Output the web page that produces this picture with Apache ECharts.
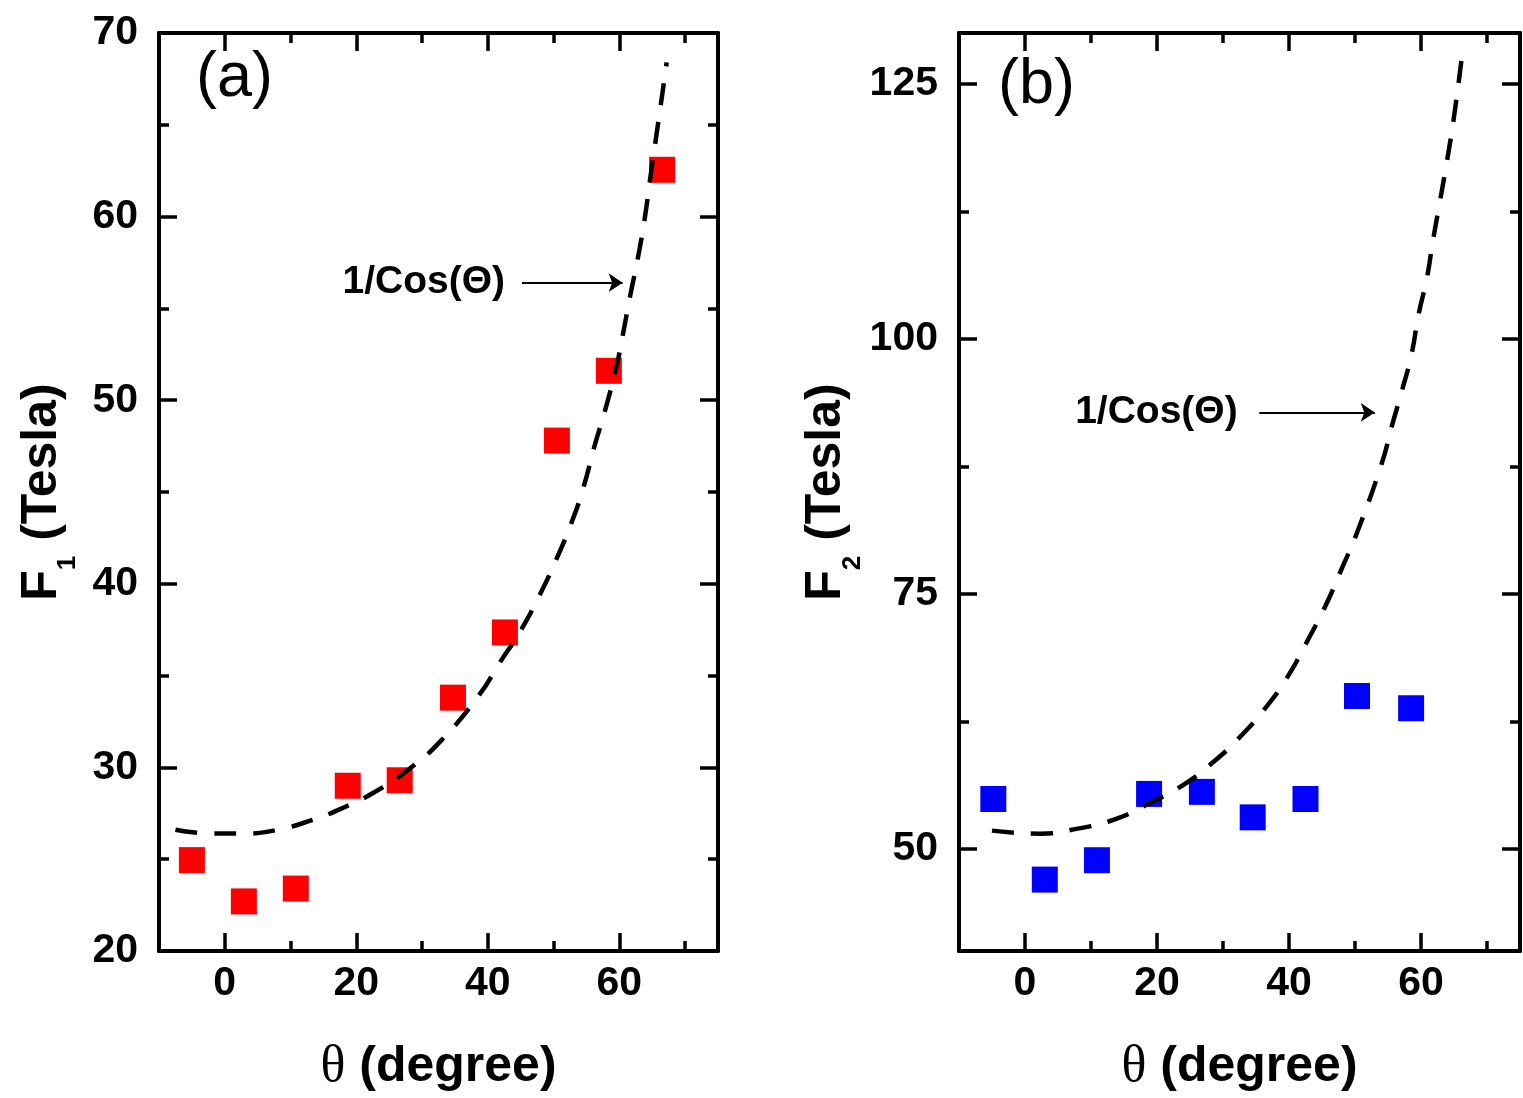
<!DOCTYPE html>
<html>
<head>
<meta charset="utf-8">
<script src="https://cdn.jsdelivr.net/npm/echarts@6/dist/echarts.min.js"></script>
<style>
  html, body { margin: 0; padding: 0; background: #fff; }
  #main { width: 1523px; height: 1098px; }
</style>
</head>
<body>
<div id="main"></div>
<script>
// panel (a): F1 measured points
const angA = [-5, 2.9, 10.8, 18.7, 26.6, 34.7, 42.6, 50.5, 58.4, 66.5];
const f1 = [24.95, 22.7, 23.4, 29.0, 29.3, 33.8, 37.35, 47.8, 51.6, 62.55];
// panel (a): dashed 1/cos curve
const curveAx = [-7.5, -2, 3, 8, 13, 18, 23, 28, 33, 38.8, 41.8, 44.9, 47.9, 50.5, 52.8, 54.5, 56.3, 57.8, 59.6, 60.5, 61.6, 62.9, 63.9, 64.7, 65.7, 66.5, 67.2];
const curveAy = [26.6, 26.4, 26.4, 26.6, 27.1, 27.8, 28.7, 29.9, 31.5, 34.0, 35.7, 37.4, 39.4, 41.4, 43.4, 45.2, 47.6, 49.4, 51.9, 53.5, 55.6, 57.9, 60.0, 62.1, 64.6, 66.6, 68.4];

// panel (b): F2 measured points
const angB = [-4.8, 3.0, 10.9, 18.8, 26.8, 34.5, 42.5, 50.3, 58.5];
const f2 = [54.9, 47.0, 48.9, 55.4, 55.6, 53.1, 54.9, 65.0, 63.8];
// panel (b): dashed 1/cos curve
const curveBx = [-5, 2.3, 8, 13.6, 18.9, 23.8, 28.3, 32.6, 36.4, 39.8, 42.7, 45.5, 48, 50.3, 54.1, 55.6, 57.1, 58.6, 59.6, 60.9, 61.8, 62.9, 63.9, 65, 66.2];
const curveBy = [51.8, 51.5, 52.0, 52.9, 54.5, 56.2, 58.4, 61.0, 63.8, 66.9, 70.3, 73.8, 77.5, 81.0, 87.9, 91.5, 94.9, 98.6, 102.3, 106.0, 109.6, 113.6, 117.3, 121.8, 127.7];

// ticks
const xMajor = [0, 20, 40, 60];
const xMinor = [-10, 10, 30, 50, 70];
const yMajorA = [20, 30, 40, 50, 60, 70];
const yMinorA = [25, 35, 45, 55, 65];
const yMajorB = [50, 75, 100, 125];
const yMinorB = [62.5, 87.5, 112.5];

// annotations: [textX, textY, arrowX0, arrowX1]
const noteA = [17.9, 56.4, 45.2, 60.5];
const noteB = [7.6, 92.8, 35.5, 53.0];

const SANS = 'Liberation Sans, Arial, Helvetica, sans-serif';
const SERIF = 'Liberation Serif, Times New Roman, serif';

function zip(a, b) { return a.map((v, i) => [v, b[i]]); }

function axis(grid, pos, min, max, ticks, len, showLine, extra) {
  return Object.assign({
    type: 'value', gridIndex: grid, position: pos, min: min, max: max,
    splitLine: { show: false },
    axisLine: { show: showLine, onZero: false, lineStyle: { color: '#000', width: 4 } },
    axisTick: { show: true, inside: true, length: len, customValues: ticks,
      lineStyle: { color: '#000', width: 3.5 } },
    axisLabel: { show: false }
  }, extra || {});
}

function labels(vals, margin) {
  return { show: true, customValues: vals, margin: margin, color: '#000',
    fontFamily: SANS, fontWeight: 'bold', fontSize: 41 };
}

const xName = {
  name: '{t|θ}{m| (degree)}', nameLocation: 'middle', nameGap: 90,
  nameTextStyle: { rich: {
    t: { fontFamily: SERIF, fontSize: 52, color: '#000' },
    m: { fontFamily: SANS, fontWeight: 'bold', fontSize: 50, color: '#000' }
  } }
};
function yName(sub, gap) {
  return {
    name: '{m|F}{s|' + sub + '}{m| (Tesla)}', nameLocation: 'middle', nameGap: gap,
    nameTextStyle: { rich: {
      m: { fontFamily: SANS, fontWeight: 'bold', fontSize: 50, lineHeight: 50, verticalAlign: 'top', color: '#000' },
      s: { fontFamily: SANS, fontWeight: 'bold', fontSize: 26, lineHeight: 26, padding: [38, 1, 0, 0], verticalAlign: 'top', color: '#000' }
    } }
  };
}

const xAxes = [];
const yAxes = [];
[0, 1].forEach(function (g) {
  xAxes.push(axis(g, 'bottom', -10, 75, xMajor, 18, true,
    Object.assign({ axisLabel: labels(xMajor, 12) }, xName)));
  xAxes.push(axis(g, 'bottom', -10, 75, xMinor, 10, false));
  xAxes.push(axis(g, 'top', -10, 75, xMajor, 18, true));
  xAxes.push(axis(g, 'top', -10, 75, xMinor, 10, false));
});
yAxes.push(axis(0, 'left', 20, 70, yMajorA, 18, true,
  Object.assign({ axisLabel: labels(yMajorA, 21) }, yName('1', 92))));
yAxes.push(axis(0, 'left', 20, 70, yMinorA, 10, false));
yAxes.push(axis(0, 'right', 20, 70, yMajorA, 18, true));
yAxes.push(axis(0, 'right', 20, 70, yMinorA, 10, false));
yAxes.push(axis(1, 'left', 40, 130, yMajorB, 18, true,
  Object.assign({ axisLabel: labels(yMajorB, 21) }, yName('2', 84))));
yAxes.push(axis(1, 'left', 40, 130, yMinorB, 10, false));
yAxes.push(axis(1, 'right', 40, 130, yMajorB, 18, true));
yAxes.push(axis(1, 'right', 40, 130, yMinorB, 10, false));

function note(n) {
  return {
    markPoint: {
      silent: true, animation: false,
      data: [{ coord: [n[0], n[1]], symbol: 'circle', symbolSize: 0,
        label: { show: true, position: 'right', distance: 0, formatter: '1/Cos(Θ)',
          color: '#000', fontFamily: SANS, fontWeight: 'bold', fontSize: 39 } }]
    },
    markLine: {
      silent: true, animation: false, symbol: ['none', 'arrow'], symbolSize: 14,
      label: { show: false },
      lineStyle: { color: '#000', width: 2, type: 'solid' },
      data: [[{ coord: [n[2], n[1]] }, { coord: [n[3], n[1]] }]]
    }
  };
}

function curve(xi, yi, xs, ys, n) {
  return Object.assign({
    type: 'line', xAxisIndex: xi, yAxisIndex: yi, data: zip(xs, ys),
    smooth: true, symbol: 'none', z: 5,
    lineStyle: { color: '#000', width: 4.5, type: [22, 17] }
  }, note(n));
}

const option = {
  backgroundColor: '#fff',
  animation: false,
  grid: [
    { left: 159, top: 33, width: 559, height: 919 },
    { left: 959, top: 33, width: 561, height: 919 }
  ],
  xAxis: xAxes,
  yAxis: yAxes,
  graphic: [
    { type: 'text', left: 196, top: 47, style: { text: '(a)', fontFamily: SANS, fontSize: 63, fill: '#000' } },
    { type: 'text', left: 998, top: 54, style: { text: '(b)', fontFamily: SANS, fontSize: 63, fill: '#000' } }
  ],
  series: [
    { type: 'scatter', xAxisIndex: 0, yAxisIndex: 0, data: zip(angA, f1),
      symbol: 'rect', symbolSize: 26, itemStyle: { color: '#ff0000', opacity: 1 }, z: 3 },
    curve(0, 0, curveAx, curveAy, noteA),
    { type: 'scatter', xAxisIndex: 4, yAxisIndex: 4, data: zip(angB, f2),
      symbol: 'rect', symbolSize: 26, itemStyle: { color: '#0000ff', opacity: 1 }, z: 3 },
    curve(4, 4, curveBx, curveBy, noteB)
  ]
};

const chart = echarts.init(document.getElementById('main'), null, { renderer: 'canvas' });
chart.setOption(option);
</script>
</body>
</html>
